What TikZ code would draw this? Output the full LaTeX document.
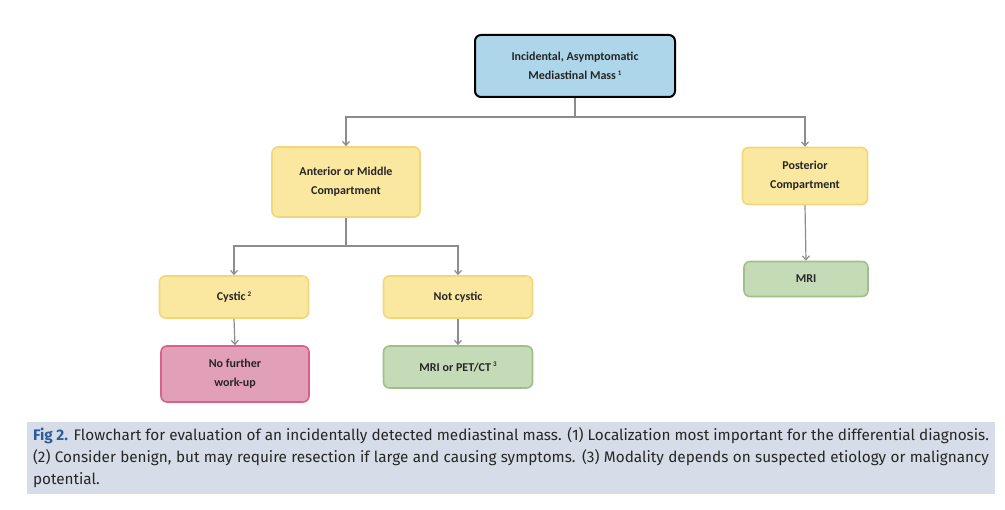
\documentclass[tikz,border=0pt]{standalone}
\usepackage{fontspec}
\setmainfont{Carlito}
\newfontfamily\capfont{Fira Sans}
\usetikzlibrary{arrows.meta}
\definecolor{blu}{HTML}{AED6EA}
\definecolor{yel}{HTML}{FAE7A0}
\definecolor{yelb}{HTML}{F2D77A}
\definecolor{grn}{HTML}{C5DBB7}
\definecolor{grnb}{HTML}{9FC08A}
\definecolor{pnk}{HTML}{E2A0B8}
\definecolor{pnkb}{HTML}{D9608A}
\definecolor{capbg}{HTML}{D6DDE8}
\definecolor{figc}{HTML}{2E5C9A}
\definecolor{ln}{HTML}{8C8C8C}
\begin{document}
\begin{tikzpicture}[x=1pt,y=-1pt,
 box/.style={rounded corners=6pt,line width=1.6pt,align=center,font=\bfseries\fontsize{12}{19}\selectfont,text=black!85,inner sep=0pt},
 yb/.style={box,fill=yel,draw=yelb},
 conn/.style={draw=ln,line width=1.2pt},
 arr/.style={conn,-{Straight Barb[length=4pt,width=7pt]}}]
\useasboundingbox (0,0) rectangle (1005,510);
\node[box,fill=blu,draw=black,line width=2pt,minimum width=200pt,minimum height=62pt] (top) at (575,66) {Incidental, Asymptomatic\\Mediastinal Mass\,\raisebox{0.7ex}{\scriptsize 1}};
\node[yb,minimum width=148pt,minimum height=70pt] (ant) at (346,182) {Anterior or Middle\\Compartment};
\node[yb,minimum width=125pt,minimum height=57pt] (post) at (805,176) {Posterior\\Compartment};
\node[box,fill=grn,draw=grnb,minimum width=124pt,minimum height=35pt] (mri) at (806,279) {MRI};
\node[yb,minimum width=149pt,minimum height=42pt] (cys) at (234,297) {Cystic\,\raisebox{0.7ex}{\scriptsize 2}};
\node[yb,minimum width=149pt,minimum height=42pt] (ncys) at (458,297) {Not cystic};
\node[box,fill=pnk,draw=pnkb,minimum width=148pt,minimum height=56pt] (nfw) at (235,374) {No further\\work-up};
\node[box,fill=grn,draw=grnb,minimum width=149pt,minimum height=42pt] (pet) at (458,367) {MRI or PET/CT\,\raisebox{0.7ex}{\scriptsize 3}};
\coordinate (j1) at (575,117);
\coordinate (j2) at (346,246);
\draw[conn] (top.south) -- (j1);
\draw[arr] (j1) -| (ant.north);
\draw[arr] (j1) -| (post.north);
\draw[conn] (ant.south) -- (j2);
\draw[arr] (j2) -| (cys.north);
\draw[arr] (j2) -| (ncys.north);
\draw[arr] (cys.south) -- (nfw.north);
\draw[arr] (ncys.south) -- (pet.north);
\draw[arr] (post.south) -- (mri.north);
\node[fill=capbg,minimum width=968pt,minimum height=72pt,inner sep=0pt] (capbox) at (511,458) {};
\node[text width=956pt,align=justify,inner sep=0pt,font=\capfont\fontsize{15.3}{22}\selectfont,text=black!85] (cap) at (511,458) {{\bfseries\color{figc}Fig 2.} Flowchart for evaluation of an incidentally detected mediastinal mass. (1) Localization most important for the differential diagnosis. (2) Consider benign, but may require resection if large and causing symptoms. (3) Modality depends on suspected etiology or malignancy potential.};
\end{tikzpicture}
\end{document}
